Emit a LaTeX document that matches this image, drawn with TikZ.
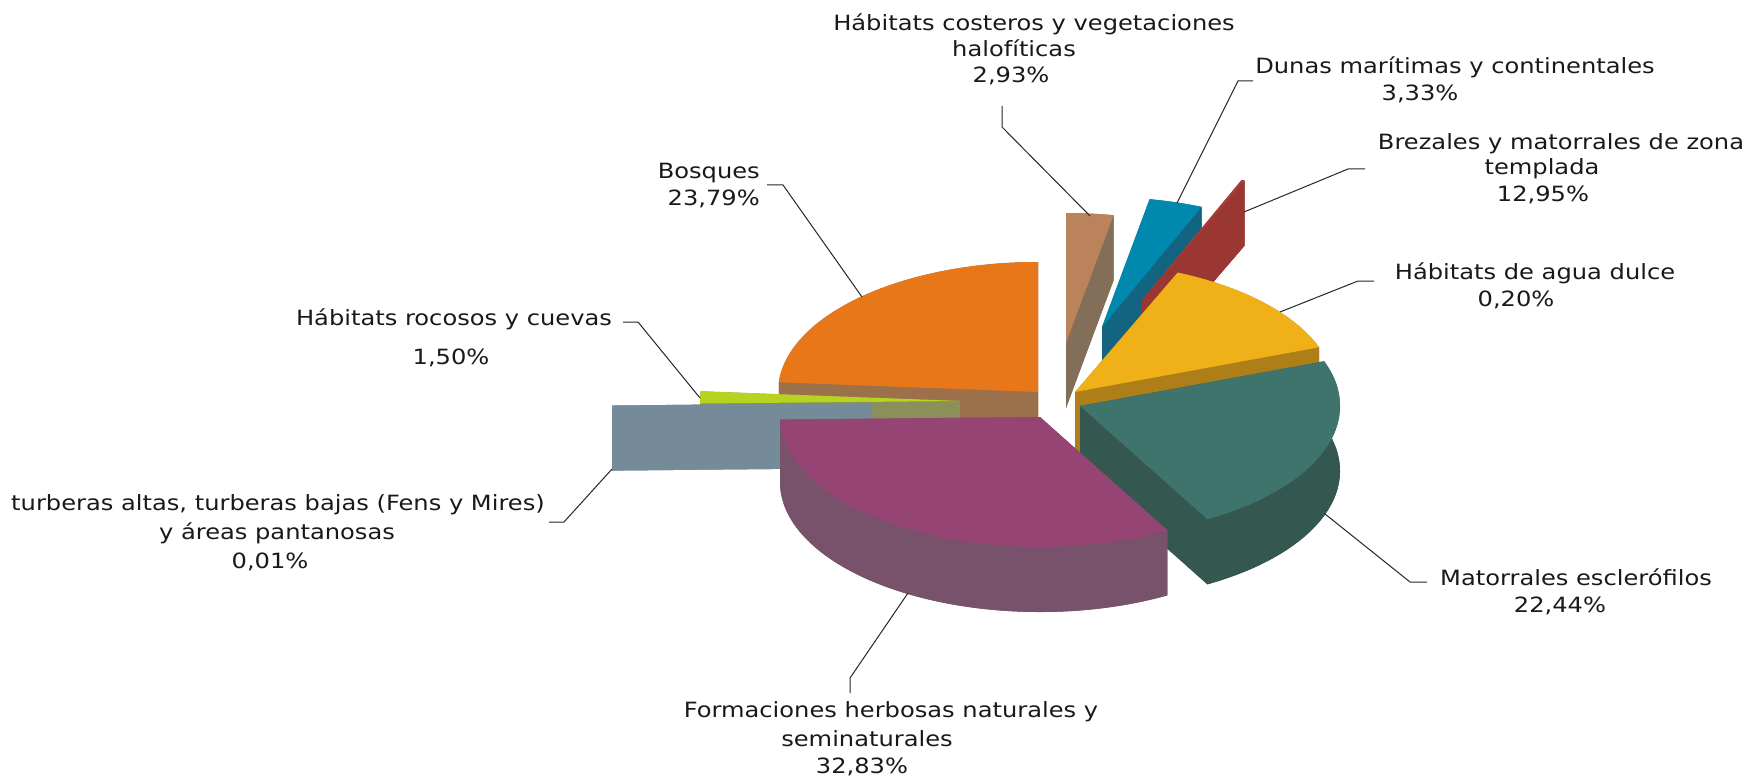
\documentclass[tikz,border=0pt]{standalone}
\usepackage{fontspec}
\setmainfont{DejaVu Sans}[FakeStretch=1.15]
\definecolor{orTop}{HTML}{E8771A}\definecolor{orSide}{HTML}{9C704B}
\definecolor{grTop}{HTML}{B8D31F}\definecolor{grSide}{HTML}{8A9058}
\definecolor{gyTop}{HTML}{768B99}\definecolor{gySide}{HTML}{768B99}
\definecolor{puTop}{HTML}{964474}\definecolor{puSide}{HTML}{77526A}
\definecolor{teTop}{HTML}{3E746B}\definecolor{teSide}{HTML}{34574F}
\definecolor{yeTop}{HTML}{F0B018}\definecolor{yeSide}{HTML}{AE7F19}
\definecolor{reTop}{HTML}{A83C38}\definecolor{reSide}{HTML}{9A3733}
\definecolor{blTop}{HTML}{0088AE}\definecolor{blSide}{HTML}{126480}
\definecolor{taTop}{HTML}{BA835C}\definecolor{taSide}{HTML}{836E59}
\newcommand\pieslice[7]{%
  \coordinate (#1) at (#2,#3);
  \fill[#7] (#2,#3+65) -- ++(#4:260 and 130) arc[start angle=#4,end angle=#5,x radius=260,y radius=130] -- cycle;
  \fill[#7] (#2,#3) -- ++(#4:260 and 130) -- ++(0,65) -- (#2,#3+65) -- cycle;
  \fill[#7] (#2,#3) -- ++(#5:260 and 130) -- ++(0,65) -- (#2,#3+65) -- cycle;
  \fill[#7] (#2,#3) ++(#4:260 and 130) arc[start angle=#4,end angle=#5,x radius=260,y radius=130] -- ++(0,65) arc[start angle=#5,end angle=#4,x radius=260,y radius=130] -- cycle;
  \fill[#6] (#2,#3) -- ++(#4:260 and 130) arc[start angle=#4,end angle=#5,x radius=260,y radius=130] -- cycle;
}
\tikzset{
  lbl/.style={anchor=base,inner sep=0pt,font=\fontsize{21}{27}\selectfont,text=black!90},
  leader/.style={draw=black!85,line width=1pt}
}
\begin{document}
\begin{tikzpicture}[x=1pt,y=-1pt]
\useasboundingbox (0,0) rectangle (1761,778);
\fill[white] (0,0) rectangle (1761,778);
% slices (back to front)
\pieslice{cOr}{1038}{392}{184.29}{270}{orTop}{orSide}
\pieslice{cGr}{960}{401}{178.89}{184.29}{grTop}{grSide}
\pieslice{cGy}{872}{403}{178.85}{178.89}{gyTop}{gySide}
\pieslice{cTa}{1066}{343}{-90}{-79.45}{taTop}{taSide}
\pieslice{cBl}{1102}{327}{-79.45}{-67.46}{blTop}{blSide}
\pieslice{cRe}{1142}{300}{-67.46}{-66.74}{reTop}{reSide}
\pieslice{cYe}{1075}{392}{-66.74}{-20.12}{yeTop}{yeSide}
\pieslice{cTe}{1080}{406}{-20.12}{60.66}{teTop}{teSide}
\pieslice{cPu}{1040}{417}{60.66}{178.85}{puTop}{puSide}
% labels
\node[lbl] (tCo1) at (1034,31) {Hábitats costeros y vegetaciones};
\node[lbl] (tCo2) at (1014,57) {halofíticas};
\node[lbl] (tCo3) at (1011,83) {2,93\%};
\node[lbl] (tDu1) at (1455,74) {Dunas marítimas y continentales};
\node[lbl] (tDu2) at (1420,101) {3,33\%};
\node[lbl] (tBr1) at (1561,150) {Brezales y matorrales de zona};
\node[lbl] (tBr2) at (1542,175) {templada};
\node[lbl] (tBr3) at (1543,202) {12,95\%};
\node[lbl] (tAg1) at (1535,279) {Hábitats de agua dulce};
\node[lbl] (tAg2) at (1516,306) {0,20\%};
\node[lbl] (tMa1) at (1576,585) {Matorrales esclerófilos};
\node[lbl] (tMa2) at (1560,612) {22,44\%};
\node[lbl] (tFo1) at (891,717) {Formaciones herbosas naturales y};
\node[lbl] (tFo2) at (867,746) {seminaturales};
\node[lbl] (tFo3) at (862,773) {32,83\%};
\node[lbl,anchor=base east] (tBo1) at (760,179) {Bosques};
\node[lbl,anchor=base east] (tBo2) at (760,206) {23,79\%};
\node[lbl] (tRo1) at (454,325) {Hábitats rocosos y cuevas};
\node[lbl] (tRo2) at (451,364) {1,50\%};
\node[lbl] (tTu1) at (278,510) {turberas altas, turberas bajas (Fens y Mires)};
\node[lbl] (tTu2) at (277,539) {y áreas pantanosas};
\node[lbl] (tTu3) at (270,568) {0,01\%};
% leader lines
\coordinate (kCo) at (1002,106); \coordinate (eCo) at (1090,216);
\draw[leader] (kCo) -- (1002,127) -- (eCo);
\coordinate (kDu) at (1253,81); \coordinate (eDu) at (1177,203);
\draw[leader] (kDu) -- (1238,81) -- (eDu);
\coordinate (kBr) at (1365,169); \coordinate (eBr) at (1244,212);
\draw[leader] (kBr) -- (1348,169) -- (eBr);
\coordinate (kAg) at (1374,281); \coordinate (eAg) at (1280,312);
\draw[leader] (kAg) -- (1358,281) -- (eAg);
\coordinate (kMa) at (1427,582); \coordinate (eMa) at (1325,514);
\draw[leader] (kMa) -- (1410,582) -- (eMa);
\coordinate (kFo) at (850,693); \coordinate (eFo) at (908,593);
\draw[leader] (kFo) -- (850,678) -- (eFo);
\coordinate (kBo) at (767,185); \coordinate (eBo) at (862,297);
\draw[leader] (kBo) -- (783,185) -- (eBo);
\coordinate (kRo) at (623,322); \coordinate (eRo) at (700,398);
\draw[leader] (kRo) -- (638,322) -- (eRo);
\coordinate (kTu) at (549,522); \coordinate (eTu) at (612,469);
\draw[leader] (kTu) -- (564,522) -- (eTu);
\end{tikzpicture}
\end{document}
